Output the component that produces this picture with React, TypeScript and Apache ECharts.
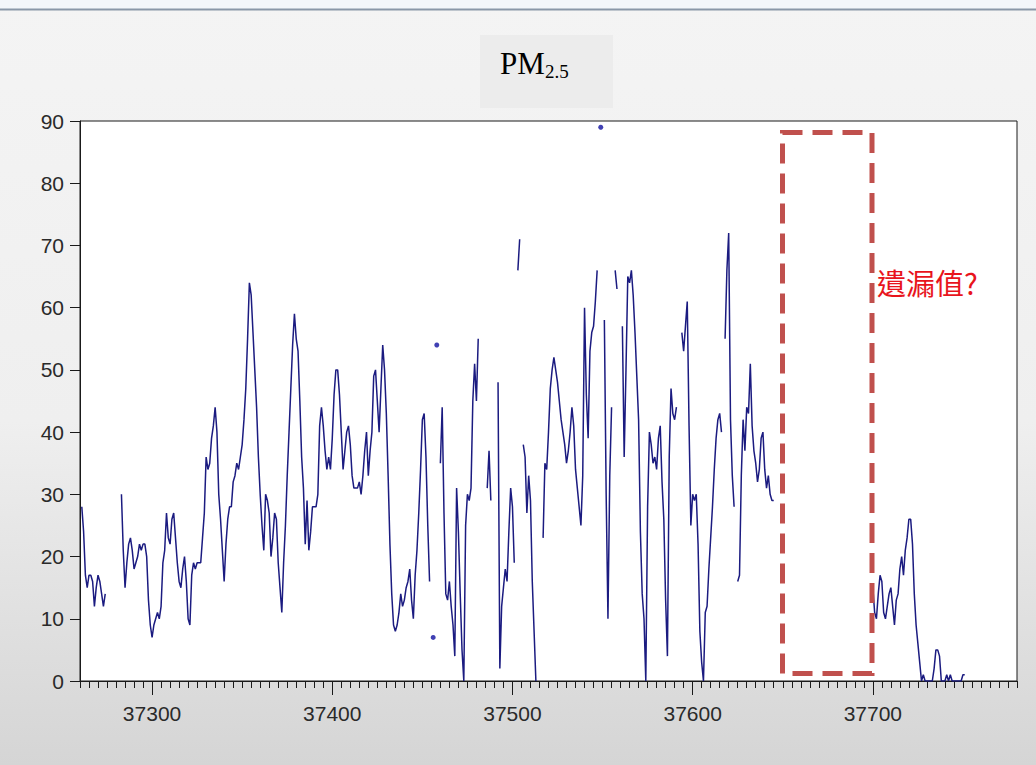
import React, { useEffect, useRef } from "react";
import * as echarts from "echarts";

// first day of the series (x value of pm25[0])
const startDay = 37261;

// daily PM2.5 values, null = missing
const pm25: (number | null)[] = [
  28, 24, 17, 15, 17, 17, 16, 12, 15, 17, // 37261
  16, 14, 12, 14, null, null, null, null, null, null, // 37271
  null, null, 30, 21, 15, 19, 22, 23, 21, 18, // 37281
  19, 20, 22, 21, 22, 22, 20, 13, 9, 7, // 37291
  9, 10, 11, 10, 12, 19, 21, 27, 23, 22, // 37301
  26, 27, 23, 19, 16, 15, 18, 20, 16, 10, // 37311
  9, 17, 19, 18, 19, 19, 19, 23, 27, 36, // 37321
  34, 35, 39, 41, 44, 40, 30, 26, 21, 16, // 37331
  22, 26, 28, 28, 32, 33, 35, 34, 36, 38, // 37341
  42, 47, 55, 64, 62, 56, 50, 44, 36, 30, // 37351
  25, 21, 30, 29, 27, 20, 23, 27, 26, 19, // 37361
  15, 11, 19, 25, 33, 40, 47, 54, 59, 55, // 37371
  53, 45, 36, 31, 22, 29, 21, 24, 28, 28, // 37381
  28, 30, 41, 44, 41, 37, 34, 36, 34, 39, // 37391
  46, 50, 50, 46, 40, 34, 37, 40, 41, 38, // 37401
  33, 31, 31, 31, 32, 30, 33, 37, 40, 33, // 37411
  37, 40, 49, 50, 45, 40, 47, 54, 50, 43, // 37421
  33, 22, 14, 9, 8, 9, 11, 14, 12, 13, // 37431
  15, 16, 18, 13, 10, 17, 21, 27, 34, 42, // 37441
  43, 36, 25, 16, null, 7, null, 54, null, 35, // 37451
  44, 27, 14, 13, 16, 12, 9, 4, 31, 24, // 37461
  14, 5, 0, 25, 30, 29, 31, 45, 51, 45, // 37471
  55, null, null, null, null, 31, 37, 29, null, null, // 37481
  null, 48, 2, 12, 15, 18, 16, 24, 31, 28, // 37491
  19, null, 66, 71, null, 38, 36, 27, 33, 29, // 37501
  16, 8, 0, null, null, null, 23, 35, 34, 40, // 37511
  47, 50, 52, 50, 48, 45, 42, 40, 38, 35, // 37521
  37, 40, 44, 41, 34, 31, 28, 25, 33, 60, // 37531
  46, 39, 53, 56, 57, 61, 66, null, 89, null, // 37541
  58, 30, 10, 33, 44, null, 66, 63, null, null, // 37551
  57, 36, 50, 65, 64, 66, 62, 56, 49, 42, // 37561
  24, 14, 10, 0, 28, 40, 38, 35, 36, 34, // 37571
  39, 41, 32, 26, 13, 4, 36, 47, 43, 42, // 37581
  44, null, null, 56, 53, 57, 61, 41, 25, 30, // 37591
  29, 30, 22, 8, 3, 0, 11, 12, 18, 23, // 37601
  28, 34, 39, 42, 43, 40, null, 55, 66, 72, // 37611
  42, 33, 28, null, 16, 17, 33, 42, 37, 44, // 37621
  43, 51, 41, 37, 35, 32, 34, 39, 40, 34, // 37631
  31, 33, 30, 29, 29, null, null, null, null, null, // 37641
  null, null, null, null, null, null, null, null, null, null, // 37651
  null, null, null, null, null, null, null, null, null, null, // 37661
  null, null, null, null, null, null, null, null, null, null, // 37671
  null, null, null, null, null, null, null, null, null, null, // 37681
  null, null, null, null, null, null, null, null, null, 15, // 37691
  11, 10, 14, 17, 16, 11, 10, 12, 14, 15, // 37701
  12, 9, 13, 14, 18, 20, 17, 21, 23, 26, // 37711
  26, 22, 14, 9, 6, 3, 0, 1, 0, 0, // 37721
  0, 0, 0, 2, 5, 5, 4, 0, 0, 0, // 37731
  1, 0, 1, 0, 0, 0, 0, 0, 0, 1, // 37741
  1, // 37751
];

const xMin = 37260;
const xMax = 37780;
const xMinorStep = 5;
const xLabelValues = [37300, 37400, 37500, 37600, 37700];
const yMin = 0;
const yMax = 90;
const yStep = 10;

const titleMain = "PM";
const titleSub = "2.5";
const noteText = "遺漏值?";

export default function App() {
  const ref = useRef<HTMLDivElement>(null);

  useEffect(() => {
    const chart = echarts.init(ref.current as HTMLDivElement, null, { renderer: "svg" });

    const lineData = pm25.map((v, i) => [startDay + i, v == null ? "-" : v]);
    const isolated = pm25
      .map((v, i) => ({ v, i }))
      .filter(
        ({ v, i }) =>
          v != null &&
          (i === 0 || pm25[i - 1] == null) &&
          (i === pm25.length - 1 || pm25[i + 1] == null)
      )
      .map(({ v, i }) => [startDay + i, v]);

    const axisFont = {
      fontFamily: "Liberation Sans, Arial, sans-serif",
      fontSize: 21,
      color: "#2a2a2a",
    };

    chart.setOption({
      animation: false,
      backgroundColor: "transparent",
      grid: {
        left: 80,
        top: 121,
        right: 19,
        bottom: 84,
        show: true,
        backgroundColor: "#ffffff",
        borderColor: "#1a1a1a",
        borderWidth: 1,
        containLabel: false,
      },
      xAxis: [
        {
          type: "value",
          min: xMin,
          max: xMax,
          interval: xMinorStep,
          position: "bottom",
          axisLine: { show: true, onZero: false, lineStyle: { color: "#1a1a1a", width: 1 } },
          axisTick: { show: true, inside: false, length: 7, lineStyle: { color: "#1a1a1a", width: 1 } },
          axisLabel: { show: false },
          splitLine: { show: false },
        },
        {
          type: "value",
          min: xMin,
          max: xMax,
          position: "bottom",
          axisLine: { show: false, onZero: false },
          axisTick: {
            show: true,
            inside: false,
            length: 14,
            customValues: xLabelValues,
            lineStyle: { color: "#1a1a1a", width: 1 },
          },
          axisLabel: {
            show: true,
            customValues: xLabelValues,
            margin: 22,
            formatter: (v: number) => String(v),
            ...axisFont,
          },
          splitLine: { show: false },
        },
      ],
      yAxis: {
        type: "value",
        min: yMin,
        max: yMax,
        interval: yStep,
        axisLine: { show: true, onZero: false, lineStyle: { color: "#1a1a1a", width: 1 } },
        axisTick: { show: true, inside: false, length: 10, lineStyle: { color: "#1a1a1a" } },
        axisLabel: { show: true, margin: 16, formatter: (v: number) => String(v), ...axisFont },
        splitLine: { show: false },
      },
      series: [
        {
          type: "line",
          xAxisIndex: 0,
          data: lineData,
          showSymbol: false,
          symbol: "none",
          connectNulls: false,
          lineStyle: { color: "#1b1b80", width: 1.5 },
          z: 3,
        },
        {
          type: "scatter",
          xAxisIndex: 0,
          data: isolated,
          symbolSize: 5,
          itemStyle: { color: "#1010a0" },
          z: 4,
        },
      ],
      graphic: [
        { type: "rect", z: -1, shape: { x: 0, y: 0, width: 1036, height: 9 }, style: { fill: "#f3f6fa" } },
        { type: "line", shape: { x1: 0, y1: 9.5, x2: 1036, y2: 9.5 }, style: { stroke: "#8a97a8", lineWidth: 2 } },
        { type: "rect", z: -1, shape: { x: 480, y: 35, width: 133, height: 73 }, style: { fill: "#ececec" } },
        {
          type: "text",
          x: 500,
          y: 63,
          style: {
            text: titleMain,
            fontSize: 31,
            fontFamily: "Liberation Serif, Times New Roman, serif",
            fill: "#000",
            verticalAlign: "middle",
          },
        },
        {
          type: "text",
          x: 545,
          y: 71,
          style: {
            text: titleSub,
            fontSize: 19,
            fontFamily: "Liberation Serif, Times New Roman, serif",
            fill: "#000",
            verticalAlign: "middle",
          },
        },
        {
          type: "rect",
          z: 10,
          shape: { x: 782.5, y: 132.5, width: 89.5, height: 541 },
          style: { fill: "none", stroke: "#c0504d", lineWidth: 5, lineDash: [20, 10] },
        },
        {
          type: "text",
          z: 10,
          x: 877,
          y: 282,
          style: {
            text: noteText,
            fontSize: 29,
            fontFamily: "Noto Sans CJK TC, sans-serif",
            fill: "#e8141c",
            verticalAlign: "middle",
          },
        },
      ],
    });

    return () => chart.dispose();
  }, []);

  return (
    <div
      ref={ref}
      style={{
        position: "absolute",
        left: 0,
        top: 0,
        width: 1036,
        height: 765,
        background: "linear-gradient(180deg, #f4f4f4 0%, #efefef 55%, #d5d5d5 100%)",
      }}
    />
  );
}
